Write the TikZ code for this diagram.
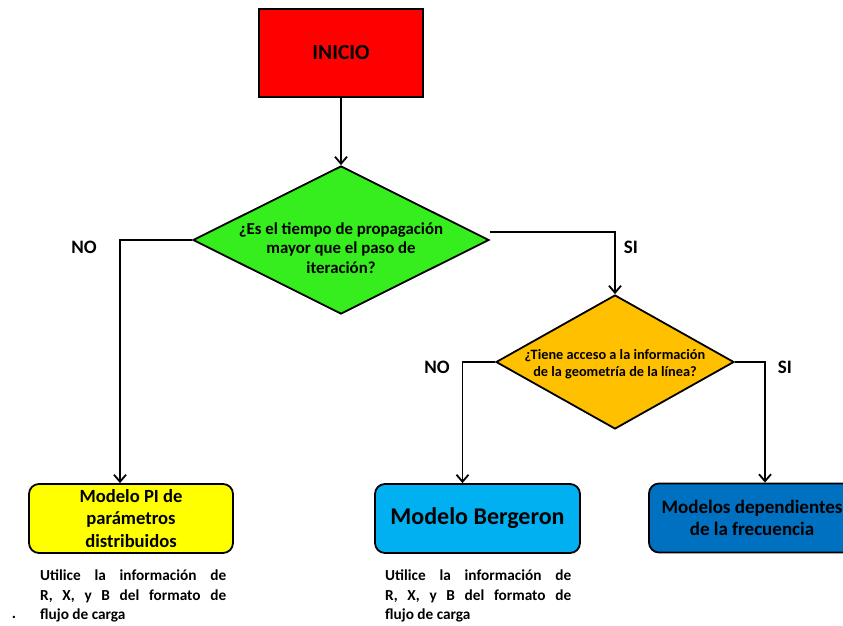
\documentclass[tikz,border=0pt]{standalone}
\usepackage{fontspec}
\setmainfont{Carlito}
\usetikzlibrary{shapes.geometric,arrows.meta}

\definecolor{cRed}{HTML}{FF0000}
\definecolor{cGreen}{HTML}{36EE1E}
\definecolor{cOrange}{HTML}{FFC000}
\definecolor{cYellow}{HTML}{FFFF00}
\definecolor{cSky}{HTML}{00B0F0}
\definecolor{cBlue}{HTML}{0070C0}

\tikzset{
  startbox/.style={draw=black, line width=1.8pt, fill=cRed, minimum width=164pt,
    minimum height=88pt, inner sep=0pt, font=\fontsize{21.5}{24}\selectfont\bfseries},
  decision/.style={draw=black, line width=1.8pt, shape=diamond, inner sep=0pt},
  qtext/.style={align=center, inner sep=0pt},
  model/.style={draw=black, line width=1.8pt, rounded corners=10pt, minimum height=69pt,
    inner sep=0pt, align=center},
  note/.style={anchor=north west, text width=186pt, align=justify, inner sep=0pt,
    font=\fontsize{15.3}{19.2}\selectfont\bfseries},
  branch/.style={font=\fontsize{19}{20}\selectfont\bfseries, inner sep=0pt},
  arr/.style={draw=black, line width=1.8pt, -{Straight Barb[length=7pt,width=12pt,line width=1.8pt]}},
}

\begin{document}
\begin{tikzpicture}[x=1pt, y=-1pt]
  \useasboundingbox (0,0) rectangle (843,626);

  % start
  \node[startbox] (inicio) at (341,53) {INICIO};

  % first question
  \node[decision, fill=cGreen, minimum width=296pt, minimum height=148pt] (q1) at (341,240) {};
  \node[qtext, font=\fontsize{16.8}{19.5}\selectfont\bfseries] (q1t) at ([yshift=-8pt]q1.center)
    {¿Es el tiempo de propagación\\mayor que el paso de\\iteración?};

  % second question
  \node[decision, fill=cOrange, minimum width=238pt, minimum height=134pt] (q2) at (615,362) {};
  \node[qtext, font=\fontsize{14.3}{17.5}\selectfont\bfseries] (q2t) at ([yshift=-2pt]q2.center)
    {¿Tiene acceso a la información\\de la geometría de la línea?};

  % models
  \node[model, fill=cYellow, minimum width=204pt, font=\fontsize{18.6}{22.5}\selectfont\bfseries]
    (pi) at (131,518.5) {Modelo PI de\\parámetros\\distribuidos};
  \node[model, fill=cSky, minimum width=205pt, font=\fontsize{24}{26}\selectfont\bfseries]
    (berg) at (477.5,518.5) {Modelo Bergeron};
  \node[model, fill=cBlue, minimum width=206pt, font=\fontsize{19}{22.5}\selectfont\bfseries]
    (freq) at (752,518) {Modelos dependientes\\de la frecuencia};

  % notes below the models
  \node[note] (n1) at (40,570) {Utilice la información de\linebreak R, X, y B del formato de\linebreak flujo de carga};
  \node[note] (n2) at (385,570) {Utilice la información de\linebreak R, X, y B del formato de\linebreak flujo de carga};
  \node[font=\fontsize{16}{18}\selectfont\bfseries, inner sep=0pt] (dot) at (14,617) {.};

  % connectors
  \draw[arr] (inicio.south) -- (q1.north);
  \draw[arr] (q1.west) -| ([xshift=-11pt]pi.north);
  \draw[arr] ([yshift=8pt]q1.east) -| (q2.north);
  \draw[arr] (q2.west) -| ([xshift=-15pt]berg.north);
  \draw[arr] (q2.east) -| ([xshift=13pt]freq.north);

  % branch labels
  \node[branch] (no1) at (84,247) {NO};
  \node[branch] (si1) at (631,247) {SI};
  \node[branch] (no2) at (437,367) {NO};
  \node[branch] (si2) at (785,367) {SI};
\end{tikzpicture}
\end{document}
